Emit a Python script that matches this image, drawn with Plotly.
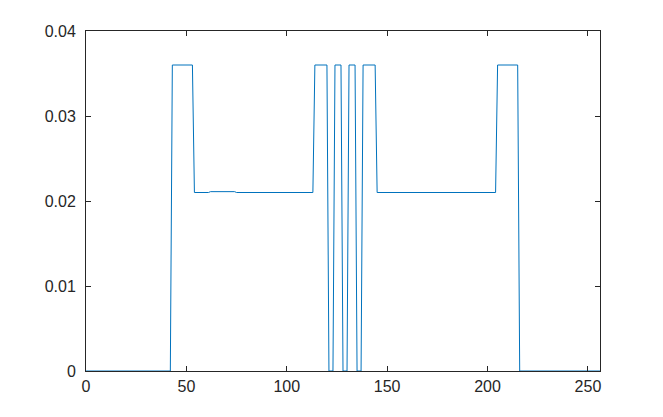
import plotly.graph_objects as go

# segment definitions (start index, end index inclusive, value)
seg_starts = [0, 43, 54, 62, 75, 114, 121, 124, 128, 131, 135, 138, 145, 205, 216]
seg_ends   = [42, 53, 61, 74, 113, 120, 123, 127, 130, 134, 137, 144, 204, 215, 256]
seg_values = [0.0, 0.036, 0.021, 0.0211, 0.021, 0.036, 0.0, 0.036, 0.0, 0.036, 0.0, 0.036, 0.021, 0.036, 0.0]

x_vals = []
y_vals = []
for s, e, v in zip(seg_starts, seg_ends, seg_values):
    for i in range(s, e + 1):
        x_vals.append(i)
        y_vals.append(v)

x_ticks = [0, 50, 100, 150, 200, 250]
y_ticks = [0, 0.01, 0.02, 0.03, 0.04]
y_tick_labels = ["0", "0.01", "0.02", "0.03", "0.04"]

fig = go.Figure()
fig.add_trace(go.Scatter(x=x_vals, y=y_vals, mode="lines",
                         line=dict(color="#0072BD", width=1), showlegend=False))

axis_common = dict(showline=True, linecolor="#262626", linewidth=1, mirror="ticks",
                   ticks="inside", ticklen=5, tickwidth=1, tickcolor="#262626",
                   showgrid=False, zeroline=False,
                   tickfont=dict(family="Liberation Sans, Arial, sans-serif", size=16, color="#262626"))

fig.update_xaxes(range=[0, 256], tickvals=x_ticks, ticklabelstandoff=1, **axis_common)
fig.update_yaxes(range=[0, 0.04], tickvals=y_ticks, ticktext=y_tick_labels, ticklabelstandoff=6, **axis_common)

# page body has an 8px margin, so the figure is shrunk and offset accordingly
fig.update_layout(width=655, height=409, margin=dict(l=78, r=63, t=23, b=46),
                  plot_bgcolor="white", paper_bgcolor="white")

fig.write_html("out.html")
